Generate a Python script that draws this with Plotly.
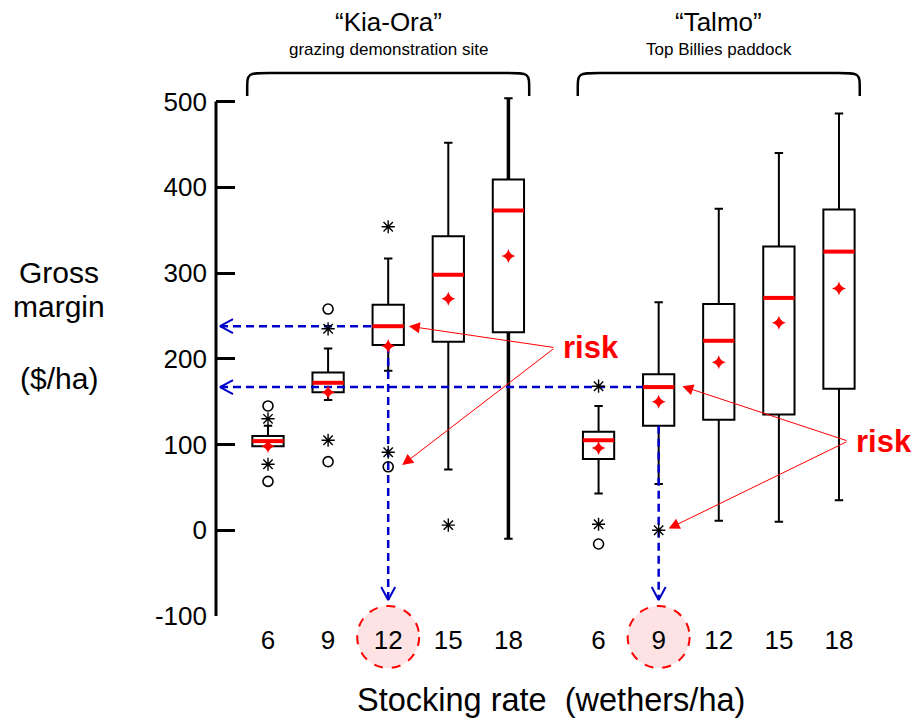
import plotly.graph_objects as go

# ---------------- data ----------------
rates = [6, 9, 12, 15, 18]
site_names = ["\u201cKia-Ora\u201d", "\u201cTalmo\u201d"]
site_subtitles = ["grazing demonstration site", "Top Billies paddock"]

kia_q1 = [98, 161, 216, 220, 231]
kia_median = [104, 172, 238, 298, 373]
kia_q3 = [110, 184, 263, 343, 409]
kia_lower = [98, 152, 186, 71, -10]
kia_upper = [122, 212, 317, 452, 504]
kia_mean = [98, 161, 215, 270, 320]

talmo_q1 = [83, 122, 129, 135, 165]
talmo_median = [105, 167, 221, 271, 325]
talmo_q3 = [115, 182, 264, 331, 374]
talmo_lower = [43, 54, 11, 10, 35]
talmo_upper = [145, 266, 375, 440, 486]
talmo_mean = [96, 150, 196, 242, 282]

# outliers: (site index, rate index, value)
outliers_circle = [(0, 0, 145), (0, 0, 57), (0, 1, 258), (0, 1, 80), (0, 2, 74), (1, 0, -16)]
outliers_star = [(0, 0, 130), (0, 0, 77), (0, 1, 235), (0, 1, 105), (0, 2, 354), (0, 2, 91),
                 (0, 3, 6), (1, 0, 168), (1, 0, 7), (1, 1, 0)]

y_ticks = [-100, 0, 100, 200, 300, 400, 500]
y_ticktext = ["-100", "0", "100", "200", "300", "400", "500"]
highlight = [(0, 2), (1, 1)]  # Kia-Ora 12, Talmo 9

# ---------------- layout geometry ----------------
W, H = 916, 722
ML, MR, MT, MB = 216, 10, 93, 106
X0, X1 = -0.865, 10.615
Y0, Y1 = -100, 510
PW, PH = W - ML - MR, H - MT - MB
PPX = PW / (X1 - X0)
PPY = PH / (Y1 - Y0)
site_offset = [0, 5.5]
BOXW = 0.52
FONT = "Liberation Sans, Arial, sans-serif"


def pos(s, i):
    return site_offset[s] + i


def dx(px):
    return px / PPX


def dy(px):
    return px / PPY


def py_paper(py):
    return (H - MB - py) / PH


def px_paper(px):
    return (px - ML) / PW


q1 = kia_q1 + talmo_q1
med = kia_median + talmo_median
q3 = kia_q3 + talmo_q3
lo = kia_lower + talmo_lower
up = kia_upper + talmo_upper
mean = kia_mean + talmo_mean
xs = [pos(s, i) for s in range(2) for i in range(len(rates))]

fig = go.Figure()

fig.add_trace(go.Box(
    x=xs, q1=q1, median=med, q3=q3, lowerfence=lo, upperfence=up,
    width=BOXW, whiskerwidth=0.27, fillcolor="white",
    line=dict(color="black", width=2), boxpoints=False, showlegend=False,
))

# thicker whisker for Kia-Ora 18
k = 4
fig.add_trace(go.Scatter(
    x=[xs[k], xs[k], None, xs[k], xs[k]],
    y=[q3[k], up[k], None, lo[k], q1[k]],
    mode="lines", line=dict(color="black", width=3.5), showlegend=False,
))

# red medians
mx, my = [], []
for x, m in zip(xs, med):
    mx += [x - BOXW / 2, x + BOXW / 2, None]
    my += [m, m, None]
fig.add_trace(go.Scatter(x=mx, y=my, mode="lines",
                         line=dict(color="#ff0000", width=4), showlegend=False))

# blue dashed guides
blue = "#0000cc"
guides = []
for s, i in highlight:
    j = s * len(rates) + i
    xb = xs[j]
    guides.append(([X0 + dx(4), xb - BOXW / 2], [med[j], med[j]]))
    guides.append(([xb, xb], [q1[j], Y0 + dy(16)]))
for gx, gy in guides:
    fig.add_trace(go.Scatter(x=gx, y=gy, mode="lines",
                             line=dict(color=blue, width=2.5, dash="8px,5px"),
                             showlegend=False))
# chevrons
cx, cy = [], []
for s, i in highlight:
    j = s * len(rates) + i
    tipx = X0 + dx(4)
    cx += [tipx + dx(13), tipx, tipx + dx(13), None]
    cy += [med[j] + dy(7), med[j], med[j] - dy(7), None]
    tipy = Y0 + dy(16)
    cx += [xs[j] - dx(7), xs[j], xs[j] + dx(7), None]
    cy += [tipy + dy(13), tipy, tipy + dy(13), None]
fig.add_trace(go.Scatter(x=cx, y=cy, mode="lines",
                         line=dict(color=blue, width=2), showlegend=False))

# means
fig.add_trace(go.Scatter(x=xs, y=mean, mode="markers",
                         marker=dict(symbol="star-diamond", size=10, color="#ff0000"),
                         showlegend=False))
# outliers
fig.add_trace(go.Scatter(
    x=[pos(s, i) for s, i, v in outliers_circle], y=[v for s, i, v in outliers_circle],
    mode="markers", marker=dict(symbol="circle-open", size=10,
                                line=dict(color="black", width=1.6), color="black"),
    showlegend=False))
fig.add_trace(go.Scatter(
    x=[pos(s, i) for s, i, v in outliers_star], y=[v for s, i, v in outliers_star],
    mode="markers", marker=dict(symbol="asterisk-open", size=11,
                                line=dict(color="black", width=1.4), color="black"),
    showlegend=False))

annotations = []
shapes = []

# risk arrows
j0 = 0 * len(rates) + 2
j1 = 1 * len(rates) + 1
tails = [(xs[j0] + 2.775, 213), (xs[j1] + 3.15, 104)]
heads = [
    [(xs[j0] + BOXW / 2 + dx(5), med[j0]), (xs[j0] + dx(14), 76)],
    [(xs[j1] + BOXW / 2 + dx(8), 168), (xs[j1] + dx(10), 2)],
]
for (tx, ty), hs in zip(tails, heads):
    for hx, hy in hs:
        annotations.append(dict(x=hx, y=hy, ax=tx, ay=ty, xref="x", yref="y",
                                axref="x", ayref="y", text="", showarrow=True,
                                arrowhead=2, arrowsize=2.2, arrowwidth=1,
                                arrowcolor="#ff0000", standoff=0, startstandoff=0))
    annotations.append(dict(x=tx, y=ty, xref="x", yref="y", text="<b>risk</b>",
                            showarrow=False, xanchor="left", yanchor="middle",
                            xshift=6, font=dict(family=FONT, size=31, color="#ff0000")))

# site headers and braces
for s in range(2):
    c = pos(s, 2)
    annotations.append(dict(x=c, y=py_paper(22), xref="x", yref="paper",
                            text=site_names[s], showarrow=False, yanchor="middle",
                            font=dict(family=FONT, size=26, color="black")))
    annotations.append(dict(x=c, y=py_paper(49), xref="x", yref="paper",
                            text=site_subtitles[s], showarrow=False, yanchor="middle",
                            font=dict(family=FONT, size=17, color="black")))
    xl, xr = c - dx(141), c + dx(141)
    yb, yt = py_paper(96), py_paper(73)
    ym = py_paper(90)
    r = dx(22)
    path = (f"M {xl},{yb} L {xl},{ym} C {xl},{yt} {xl},{yt} {xl + r},{yt} "
            f"L {xr - r},{yt} C {xr},{yt} {xr},{yt} {xr},{ym} L {xr},{yb}")
    shapes.append(dict(type="path", path=path, xref="x", yref="paper",
                       line=dict(color="black", width=2.5)))

# highlight circles around tick labels
for s, i in highlight:
    c = pos(s, i)
    shapes.append(dict(type="circle", xref="x", yref="paper", layer="below",
                       x0=c - dx(31), x1=c + dx(31), y0=py_paper(668), y1=py_paper(606),
                       fillcolor="#fde3e3", line=dict(color="#ff0000", width=2, dash="dash")))

# y axis line
shapes.append(dict(type="line", xref="paper", yref="y", x0=0, x1=0, y0=Y0, y1=500,
                   line=dict(color="black", width=3)))

# axis titles
for txt, py in [("Gross", 272), ("margin", 306), ("($/ha)", 378)]:
    annotations.append(dict(x=px_paper(59), y=py_paper(py), xref="paper", yref="paper",
                            text=txt, showarrow=False, xanchor="center", yanchor="middle",
                            font=dict(family=FONT, size=30, color="black")))
annotations.append(dict(x=px_paper(551), y=py_paper(700), xref="paper", yref="paper",
                        text="Stocking rate\u00a0\u00a0(wethers/ha)", showarrow=False,
                        xanchor="center", yanchor="middle",
                        font=dict(family=FONT, size=32.5, color="black")))

fig.update_layout(
    width=W, height=H, margin=dict(l=ML, r=MR, t=MT, b=MB, autoexpand=False),
    paper_bgcolor="white", plot_bgcolor="white",
    annotations=annotations, shapes=shapes, showlegend=False,
    xaxis=dict(range=[X0, X1], showgrid=False, zeroline=False, showline=False,
               tickvals=xs, ticktext=[str(r_) for r_ in rates] * 2, ticks="",
               tickfont=dict(family=FONT, size=26, color="black"),
               ticklabelstandoff=6),
    yaxis=dict(range=[Y0, Y1], showgrid=False, zeroline=False, showline=False,
               tickvals=y_ticks, ticktext=y_ticktext, ticks="inside", ticklen=19,
               tickwidth=3, tickcolor="black",
               tickfont=dict(family=FONT, size=26, color="black"),
               ticklabelstandoff=8),
)

fig.write_html("out.html", config={"displayModeBar": False},
               post_script="document.body.style.margin='0';document.body.style.overflow='hidden';")
